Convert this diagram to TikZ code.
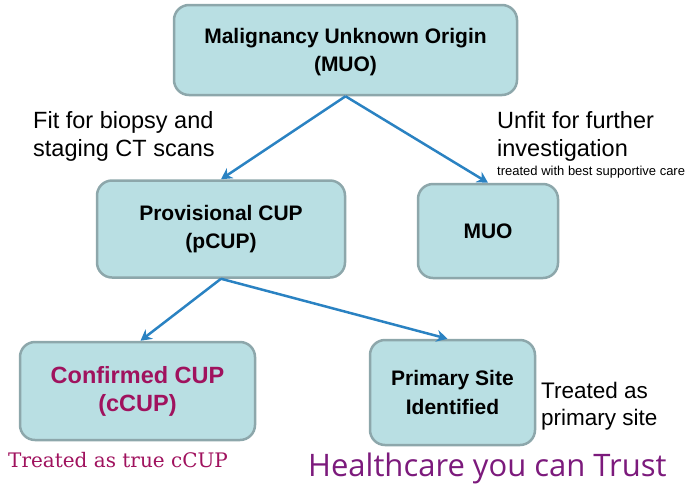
\documentclass[tikz,border=0pt]{standalone}
\usepackage{fontspec}
\setmainfont{Liberation Sans}
\newfontfamily\serifx{DejaVu Serif}
\newfontfamily\trustfont{Open Sans}
\usetikzlibrary{arrows.meta}
\definecolor{boxfill}{HTML}{B9DFE3}
\definecolor{boxline}{HTML}{8DA7AB}
\definecolor{arrowblue}{HTML}{2A82C2}
\definecolor{cupred}{HTML}{A0125E}
\definecolor{trustpurple}{HTML}{7C1A7C}
\tikzset{
  box/.style={draw=boxline, fill=boxfill, line width=2.5pt, rounded corners=15pt, align=center, inner sep=0pt},
  boxtext/.style={font=\bfseries\fontsize{21}{28.5}\selectfont},
  flow/.style={draw=arrowblue, line width=2.5pt, -{Stealth[length=11pt,width=12pt]}},
  lbl/.style={font=\fontsize{23.5}{28}\selectfont, align=left, inner sep=0pt}
}
\begin{document}
\begin{tikzpicture}[x=1pt,y=-1pt]
\useasboundingbox (0,0) rectangle (691,491);
\node[box, boxtext, minimum width=343pt, minimum height=90pt, text depth=-2pt] (muo0) at (345.5,50) {Malignancy Unknown Origin\\(MUO)};
\node[box, boxtext, minimum width=248pt, minimum height=97pt] (pcup) at (221,229) {Provisional CUP\\(pCUP)};
\node[box, boxtext, minimum width=140pt, minimum height=94pt] (muo) at (488,231) {MUO};
\node[box, font=\bfseries\fontsize{23.5}{28}\selectfont, text=cupred, minimum width=235pt, minimum height=98pt] (ccup) at (137.5,391) {Confirmed CUP\\(cCUP)};
\node[box, boxtext, minimum width=165pt, minimum height=105pt] (prim) at (452.5,392.5) {Primary Site\\Identified};

\draw[flow] (muo0.south) -- (pcup.north);
\draw[flow] (muo0.south) -- (muo.north);
\draw[flow] (pcup.south) -- ([xshift=3pt]ccup.north);
\draw[flow] (pcup.south) -- ([xshift=-5pt]prim.north);

\node[lbl, anchor=base west] (fit1) at (33,128) {Fit for biopsy and};
\node[lbl, anchor=base west] (fit2) at (33,156) {staging CT scans};
\node[lbl, anchor=base west] (unf1) at (497,128) {Unfit for further};
\node[lbl, anchor=base west] (unf2) at (497,156) {investigation};
\node[font=\fontsize{13}{15}\selectfont, inner sep=0pt, anchor=base west] (bsc) at (497,175) {treated with best supportive care};
\node[font=\fontsize{22.5}{27}\selectfont, inner sep=0pt, anchor=base west] (tr1) at (541,398) {Treated as};
\node[font=\fontsize{22.5}{27}\selectfont, inner sep=0pt, anchor=base west] (tr2) at (541,425) {primary site};
\node[font=\serifx\fontsize{20}{24}\selectfont, text=cupred, inner sep=0pt, anchor=base west] (true) at (8,467) {Treated as true cCUP};
\node[font=\trustfont\fontsize{31}{34}\selectfont, text=trustpurple, inner sep=0pt, anchor=base west] (trust) at (308,476) {Healthcare you can Trust};
\end{tikzpicture}
\end{document}
